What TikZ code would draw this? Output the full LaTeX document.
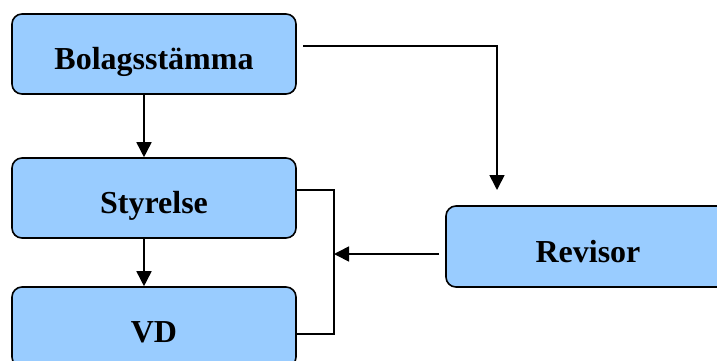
\documentclass[tikz,border=0pt]{standalone}
\usepackage{fontspec}
\setmainfont{Liberation Serif}
\usetikzlibrary{arrows.meta}
\definecolor{boxblue}{HTML}{99CCFF}
\newcommand{\boxtext}[1]{\raisebox{-15.5pt}[0pt][0pt]{#1}}
\tikzset{
  orgbox/.style={draw=black, fill=boxblue, line width=1.6pt, rounded corners=10pt,
    minimum width=284pt, minimum height=80pt, inner sep=0pt,
    font=\fontsize{32}{36}\selectfont\bfseries},
  conn/.style={line width=1.6pt, draw=black},
  arr/.style={conn, -{Triangle[width=15pt,length=15pt]}}
}
\begin{document}
\begin{tikzpicture}[x=1pt,y=-1pt]
\useasboundingbox (0,0) rectangle (717,360);
\node[orgbox] (bol) at (154,54) {\boxtext{Bolagsstämma}};
\node[orgbox] (sty) at (154,198) {\boxtext{Styrelse}};
\node[orgbox] (vd) at (154,327) {\boxtext{VD}};
\node[orgbox, minimum height=81pt] (rev) at (588,246.5) {\boxtext{Revisor}};
% vertical hierarchy
\draw[arr] ([xshift=-10pt]bol.south) -- ([xshift=-10pt]sty.north);
\draw[arr] ([xshift=-10pt]sty.south) -- ([xshift=-10pt]vd.north);
% Bolagsstämma to Revisor
\coordinate (b1) at (303,46);
\coordinate (r1) at (497,190);
\draw[arr] (b1) -| (r1);
% bracket joining Styrelse and VD
\coordinate (s1) at (334,190);
\coordinate (v1) at (334,334);
\draw[conn] (sty.east |- s1) -- (s1) -- (v1) -- (vd.east |- v1);
% Revisor to bracket
\coordinate (ra) at (439,254);
\draw[arr] (ra) -- (ra -| s1);
\end{tikzpicture}
\end{document}
